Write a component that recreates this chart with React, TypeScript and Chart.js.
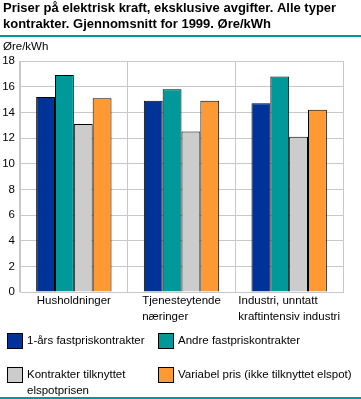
import React, { useEffect, useRef } from "react";
import { Chart, registerables } from "chart.js";

Chart.register(...registerables);

const titleLines = [
  "Priser på elektrisk kraft, eksklusive avgifter. Alle typer",
  "kontrakter. Gjennomsnitt for 1999. Øre/kWh",
];
const unitLabel = "Øre/kWh";
const categories: string[][] = [
  ["Husholdninger"],
  ["Tjenesteytende", "næringer"],
  ["Industri, unntatt", "kraftintensiv industri"],
];
const seriesNames: string[][] = [
  ["1-års fastpriskontrakter"],
  ["Andre fastpriskontrakter"],
  ["Kontrakter tilknyttet", "elspotprisen"],
  ["Variabel pris (ikke tilknyttet elspot)"],
];
const ettaarsFastpris = [15.2, 14.9, 14.7];
const andreFastpris = [16.9, 15.8, 16.8];
const elspotTilknyttet = [13.1, 12.5, 12.1];
const variabelPris = [15.1, 14.9, 14.2];
const seriesColors = ["#003399", "#009999", "#cccccc", "#ff9933"];
const yMax = 18;
const yStep = 2;

const FONT = "'Liberation Sans', Arial, sans-serif";

export default function App() {
  const ref = useRef<HTMLCanvasElement | null>(null);
  useEffect(() => {
    if (!ref.current) return;
    const overlay = {
      id: "overlay",
      afterDraw(chart: any) {
        const ctx = chart.ctx;
        ctx.save();
        // title
        ctx.fillStyle = "#000";
        ctx.textBaseline = "alphabetic";
        ctx.textAlign = "left";
        ctx.font = `bold 13px ${FONT}`;
        ctx.fillText(titleLines[0], 3, 11.5);
        ctx.fillText(titleLines[1], 3, 28);
        // separators
        ctx.fillStyle = "#009999";
        ctx.fillRect(0, 35, 361, 2);
        ctx.fillRect(0, 397, 361, 2);
        // unit label
        ctx.fillStyle = "#000";
        ctx.font = `11.5px ${FONT}`;
        ctx.textBaseline = "middle";
        ctx.fillText(unitLabel, 3, 47);
        // category labels
        const xs = chart.scales.x;
        categories.forEach((lines, i) => {
          const cx = xs.getPixelForValue(i);
          const w = Math.max(...lines.map((l) => ctx.measureText(l).width));
          lines.forEach((l, j) => ctx.fillText(l, cx - w / 2, 301 + j * 15.5));
        });
        // legend
        const pos = [
          [7, 333],
          [158, 333],
          [7, 367],
          [158, 367],
        ];
        seriesNames.forEach((lines, i) => {
          const [bx, by] = pos[i];
          ctx.fillStyle = seriesColors[i];
          ctx.fillRect(bx, by, 16, 16);
          ctx.strokeStyle = "#000";
          ctx.lineWidth = 1;
          ctx.strokeRect(bx + 0.5, by + 0.5, 15, 15);
          ctx.fillStyle = "#000";
          lines.forEach((l, j) => ctx.fillText(l, bx + 20, by + 8 + j * 16));
        });
        ctx.restore();
      },
    };
    const mk = (label: string, data: number[], i: number) => ({
      label,
      data,
      backgroundColor: seriesColors[i],
      borderColor: "#000",
      borderWidth: 1,
      categoryPercentage: 0.7,
      barPercentage: 1,
    });
    const chart = new Chart(ref.current, {
      type: "bar",
      data: {
        labels: categories.map((c) => c.join(" ")),
        datasets: [
          mk(seriesNames[0].join(" "), ettaarsFastpris, 0),
          mk(seriesNames[1].join(" "), andreFastpris, 1),
          mk(seriesNames[2].join(" "), elspotTilknyttet, 2),
          mk(seriesNames[3].join(" "), variabelPris, 3),
        ],
      },
      options: {
        responsive: false,
        animation: false,
        devicePixelRatio: 1,
        layout: { padding: { top: 61, right: 18, bottom: 107, left: 0 } },
        plugins: { legend: { display: false }, tooltip: { enabled: false }, title: { display: false } },
        scales: {
          x: {
            ticks: { display: false },
            grid: { color: "#c8c8c8", drawTicks: false, offset: true },
            border: { color: "#c8c8c8" },
            afterFit: (s: any) => {
              s.height = 0;
            },
          },
          y: {
            min: 0,
            max: yMax,
            ticks: { stepSize: yStep, color: "#000", font: { family: FONT, size: 11.5 }, padding: 5 },
            grid: { color: "#c8c8c8", drawTicks: false },
            border: { color: "#c8c8c8" },
            afterFit: (s: any) => {
              s.width = 20;
            },
          },
        },
      },
      plugins: [overlay],
    });
    return () => chart.destroy();
  }, []);
  return (
    <div style={{ position: "absolute", left: 0, top: 0, width: 361, height: 399, background: "#fff" }}>
      <canvas ref={ref} width={361} height={399} style={{ display: "block", width: 361, height: 399 }} />
    </div>
  );
}
